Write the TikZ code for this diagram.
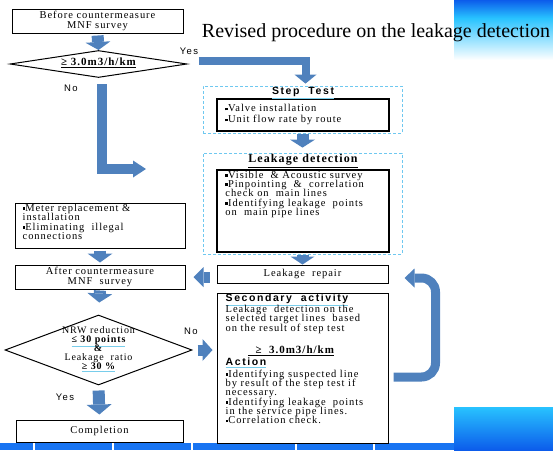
\documentclass[tikz,border=0pt]{standalone}
\usepackage{fontspec}
\setmainfont{Liberation Serif}
\newfontfamily\widefont{Liberation Serif}[LetterSpace=9]
\newfontfamily\widesans{Liberation Sans}[LetterSpace=15]
\usetikzlibrary{arrows.meta,shapes.geometric,positioning}
\definecolor{arrowblue}{RGB}{79,129,189}
\definecolor{dashcyan}{RGB}{110,200,240}
\definecolor{ulcyan}{RGB}{120,205,235}
\definecolor{barblue}{RGB}{24,116,242}
\definecolor{deepblue}{RGB}{12,92,235}
\definecolor{skycyan}{RGB}{40,195,255}
\setlength{\lineskiplimit}{-20pt}
\newcommand\sqb{\rule[0.3ex]{0.55ex}{0.55ex}}
\newcommand\culine[1]{{\color{ulcyan}\underline{\textcolor{black}{#1}}}}
\begin{document}
\begin{tikzpicture}[x=1pt,y=-1pt,
  flowbox/.style={draw,line width=1pt,inner sep=0pt,align=center,font=\widefont\fontsize{10.5}{10}\selectfont},
  innerbox/.style={draw,line width=1.5pt,inner sep=0pt},
  dashbox/.style={draw=dashcyan,line width=0.8pt,dash pattern=on 3pt off 2pt,inner sep=0pt},
  choice/.style={draw,shape=diamond,line width=1pt,inner sep=0pt},
  bodytext/.style={inner sep=0pt,anchor=north west,align=left,font=\widefont\fontsize{10.5}{9.3}\selectfont},
  choicetext/.style={inner sep=0pt,align=center,font=\widefont\fontsize{10}{9.2}\selectfont},
  answer/.style={inner sep=0pt,font=\widesans\fontsize{9.5}{10}\selectfont},
  sanshead/.style={inner sep=0pt,font=\widesans\bfseries\fontsize{10.5}{11}\selectfont},
  blockarrow/.style n args={3}{draw=arrowblue,line width=#1,-{Triangle[length=#2,width=#3,line width=0pt]}}]
\useasboundingbox (0,0) rectangle (553,450);
% backdrop
\shade[top color=deepblue,bottom color=skycyan] (454,0) rectangle (553,18);
\shade[top color=skycyan,bottom color=white] (454,18) rectangle (553,60);
\shade[top color=skycyan,bottom color=deepblue] (454,407) rectangle (553,450);
\fill[barblue] (0,443) rectangle (454,450);
\foreach \gx in {34,113,192,296,374}
  \draw[white,line width=1.2pt] (\gx,443) -- (\gx,450);
\node[inner sep=0pt,anchor=base,font=\fontsize{20}{24}\selectfont] (title) at (376,37) {Revised procedure on the leakage detection};
% left column
\node[flowbox,minimum width=171pt,minimum height=24pt] (before) at (97.5,21) {Before countermeasure\\MNF survey};
\node[choice,minimum width=177pt,minimum height=27pt] (d1) at (98.5,64) {};
\node[choicetext,font=\widefont\bfseries\fontsize{11}{11}\selectfont] (d1text) at (98.5,63) {\underline{≥ 3.0m3/h/km}};
\node[answer] (yes1) at (189,51) {Yes};
\node[answer] (no1) at (71,88) {No};
\node[flowbox,minimum width=170pt,minimum height=45pt] (meter) at (100,225.5) {};
\node[bodytext] (metertext) at ([shift={(8,1.5)}]meter.north west) {\sqb Meter replacement \&\\installation\\\sqb Eliminating~ illegal\\connections};
\node[flowbox,minimum width=170pt,minimum height=24pt] (after) at (100,277) {After countermeasure\\MNF~ survey};
\node[choice,minimum width=187pt,minimum height=70pt] (d2) at (98.5,350) {};
\node[choicetext] (d2text) at (98.5,349) {NRW reduction\\\textbf{\culine{≤ 30 points}}\\\textbf{\&}\\Leakage~ ratio\\\textbf{\culine{≥ 30 \%}}};
\node[answer] (no2) at (191,331) {No};
\node[answer] (yes2) at (65,397) {Yes};
\node[flowbox,minimum width=167pt,minimum height=22pt] (completion) at (99.5,431) {Completion};
% right column
\node[dashbox,minimum width=199pt,minimum height=47pt] (stepzone) at (302.5,109.5) {};
\node[innerbox,minimum width=172pt,minimum height=32pt] (stepbox) at (303,115) {};
\node[sanshead] (steptitle) at (303,93) {\culine{Step~ Test}};
\node[bodytext,font=\widefont\fontsize{10.5}{11}\selectfont] (steptext) at ([shift={(9,6)}]stepbox.north west) {\sqb Valve installation\\\sqb Unit flow rate by route};
\node[dashbox,minimum width=199pt,minimum height=101pt] (leakzone) at (302.5,203.5) {};
\node[innerbox,minimum width=172pt,minimum height=82pt] (leakbox) at (303,211) {};
\node[inner sep=0pt,font=\widefont\bfseries\fontsize{12}{13}\selectfont] (leaktitle) at (303,161) {\underline{Leakage detection}};
\node[bodytext] (leaktext) at ([shift={(9,1.5)}]leakbox.north west) {\sqb Visible~ \& Acoustic survey\\\sqb Pinpointing~ \&~ correlation\\check on~ main lines\\\sqb Identifying leakage~ points\\on~ main pipe lines};
\node[flowbox,minimum width=171pt,minimum height=18pt] (repair) at (302.5,274) {Leakage~ repair};
\node[flowbox,minimum width=171pt,minimum height=150pt] (sec) at (302.5,368) {};
\node[sanshead,anchor=north west] (sectitle) at ([shift={(9,1.5)}]sec.north west) {\culine{Secondary~ activity}};
\node[bodytext] (sectext) at ([shift={(9,12.5)}]sec.north west) {Leakage~ detection on the\\selected target lines~ based\\on the result of step test};
\node[inner sep=0pt,font=\widefont\bfseries\fontsize{11}{11}\selectfont] (secrate) at (291,351) {\underline{~ ≥~ 3.0m3/h/km}};
\node[sanshead,anchor=north west] (actiontitle) at ([shift={(9,65)}]sec.north west) {\culine{Action}};
\node[bodytext] (actiontext) at ([shift={(9,77)}]sec.north west) {\sqb Identifying suspected line\\by result of the step test if\\necessary.\\\sqb Identifying leakage~ points\\in the service pipe lines.\\\sqb Correlation check.};
% connectors
\coordinate (noend) at (146,169);
\draw[blockarrow={12pt}{8pt}{25pt},shorten <=2pt] (before.south) -- (d1.north);
\draw[blockarrow={8pt}{9pt}{22pt},shorten >=2pt] ([shift={(11,-3)}]d1.east) -| ([shift={(3,0)}]stepzone.north);
\draw[blockarrow={10pt}{13pt}{17pt}] ([shift={(3,6)}]d1.south) |- (noend);
\draw[blockarrow={12pt}{8pt}{25pt},shorten <=1pt,shorten >=5pt] (stepzone.south) -- (leakzone.north);
\draw[blockarrow={12pt}{8pt}{24pt},shorten <=1pt] (leakzone.south) -- (repair.north);
\draw[blockarrow={11pt}{10pt}{20pt},shorten <=7pt,shorten >=8pt] (after.east -| repair.west) -- (after.east);
\draw[blockarrow={12pt}{9pt}{25pt},shorten <=2pt,shorten >=2pt] (meter.south) -- (after.north);
\draw[blockarrow={12pt}{9pt}{25pt},shorten <=1pt,shorten >=12pt] (after.south) -- (d2.north);
\draw[blockarrow={11pt}{10pt}{22pt},shorten <=5pt,shorten >=4pt] (d2.east) -- (d2.east -| sec.west);
\draw[blockarrow={12pt}{10pt}{25pt},shorten <=5pt,shorten >=5pt] (d2.south) -- (completion.north);
\draw[blockarrow={9pt}{10pt}{19pt},rounded corners=14pt] ([shift={(5,9)}]sec.east) -| ([shift={(47,4)}]repair.east) -- ([shift={(16,4)}]repair.east);
\end{tikzpicture}
\end{document}
